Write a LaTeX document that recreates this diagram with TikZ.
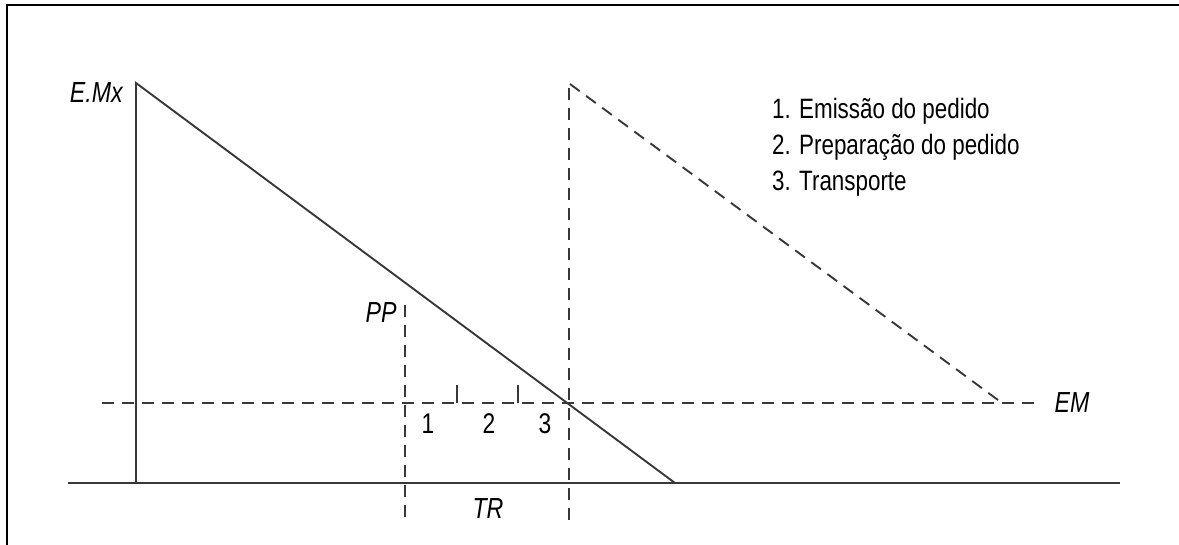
\documentclass[tikz,border=0pt]{standalone}
\usepackage{fontspec}
\setmainfont{Liberation Sans}[FakeStretch=0.80]
\begin{document}
\begin{tikzpicture}[x=1pt,y=-1pt,
  line/.style={line width=1.9pt, draw=black!78},
  dline/.style={line width=1.9pt, draw=black!78, dash pattern=on 12pt off 8pt},
  lbl/.style={font=\fontsize{29}{32}\selectfont\itshape, inner sep=0pt},
  num/.style={font=\fontsize{28.5}{32}\selectfont, inner sep=0pt},
  leg/.style={font=\fontsize{28}{32}\selectfont, inner sep=0pt, anchor=base west}]
\useasboundingbox (0,0) rectangle (1179,545);
% frame
\draw[line width=2.4pt, black] (7,545) -- (7,5) -- (1179,5);
% coordinates
\coordinate (emx) at (136,83);
\coordinate (emxb) at (136,483);
\coordinate (zero) at (675,483);
\coordinate (bl) at (68,483);
\coordinate (br) at (1120,483);
\coordinate (eml) at (102,403);
\coordinate (emr) at (1037,403);
\coordinate (ppt) at (405,305);
\coordinate (ppb) at (405,522);
\coordinate (trt) at (569,88);
\coordinate (trb) at (569,522);
\coordinate (peak) at (570,84);
\coordinate (low) at (1002,403);
\coordinate (t1a) at (457,385);
\coordinate (t1b) at (457,403);
\coordinate (t2a) at (518,385);
\coordinate (t2b) at (518,403);
% solid lines
\draw[line] (bl) -- (br);
\draw[line] (emxb) -- (emx) -- (zero);
% dashed lines
\draw[dline] (eml) -- (emr);
\draw[dline] (ppt) -- (ppb);
\draw[dline] (trt) -- (trb);
\draw[dline] (peak) -- (low);
% ticks
\draw[line, line width=1.4pt] (t1a) -- (t1b);
\draw[line, line width=1.4pt] (t2a) -- (t2b);
% labels
\node[lbl, anchor=east] (lemx) at (123,93) {E.Mx};
\node[lbl] (lpp) at (381,313) {PP};
\node[lbl] (lem) at (1072,403) {EM};
\node[lbl] (ltr) at (488,509) {TR};
\node[num] (n1) at (428,424) {1};
\node[num] (n2) at (489,424) {2};
\node[num] (n3) at (545,424) {3};
% legend
\node[leg] (g1) at (772,119) {1. Emissão do pedido};
\node[leg] (g2) at (772,155) {2. Preparação do pedido};
\node[leg] (g3) at (772,191) {3. Transporte};
\end{tikzpicture}
\end{document}
